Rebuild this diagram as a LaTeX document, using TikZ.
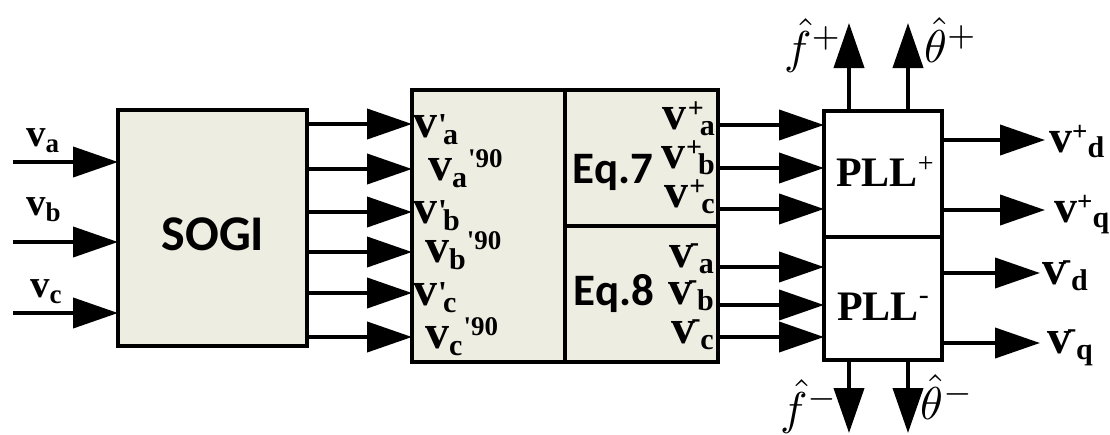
\documentclass[tikz,border=0pt]{standalone}
\usepackage{graphicx}
\usepackage{fontspec}
\setmainfont{Liberation Serif}
\newfontfamily\tms{Liberation Serif}
\newfontfamily\calib{Carlito}
\usetikzlibrary{arrows.meta}
\definecolor{boxfill}{RGB}{237,237,226}
\newcommand\fs[1]{\fontsize{#1}{#1}\selectfont}
% input labels
\newcommand\vin[1]{\fs{39}v\raisebox{-6pt}{\fs{27}#1}}
% v'_x
\newcommand\vpr[1]{\fs{48}v\kern1pt\rlap{\raisebox{2pt}{\fs{32}'}}\kern5pt\raisebox{-7pt}{\fs{30}#1}}
% v_x'90
\newcommand\vnt[1]{\fs{48}v\raisebox{-7pt}{\fs{30}#1}\kern1pt\raisebox{13pt}{\fs{27}'90}}
% v^+_x stacked
\newcommand\vpl[1]{\fs{48}v\kern1pt\rlap{\raisebox{12pt}{\fs{28}+}}\kern12pt\raisebox{-6pt}{\fs{30}#1}}
% v^-_x stacked
\newcommand\vmi[1]{\fs{48}v\rlap{\kern-4pt\raisebox{16pt}{\fs{28}-}}\kern5pt\raisebox{-6pt}{\fs{30}#1}}
% v^+_x sequential
\newcommand\vps[1]{\fs{46}v\raisebox{12pt}{\fs{27}+}\raisebox{-5pt}{\fs{30}#1}}
\begin{document}
\begin{tikzpicture}[x=1pt,y=-1pt,
  blk/.style={draw, line width=4pt, fill=boxfill, inner sep=0pt, outer sep=0pt},
  wblk/.style={blk, fill=white},
  arr/.style={line width=4pt, -{Triangle[length=45pt,width=30pt]}},
  lab/.style={inner sep=0pt, anchor=base west, font=\tms\bfseries},
  labr/.style={lab, anchor=base east},
  hatlab/.style={inner sep=0pt, anchor=base west},
]
\useasboundingbox (0,0) rectangle (1110,434);
% blocks
\node[blk, minimum width=189pt, minimum height=236pt] (sogi) at (212.5,228) {};
\node[anchor=base, inner sep=0pt, font=\calib\bfseries\fs{50}] (sogit) at (213,250) {SOGI};
\node[blk, minimum width=153pt, minimum height=272pt] (midL) at (488.5,226) {};
\node[blk, minimum width=153pt, minimum height=136pt] (eq7) at (641.5,158) {};
\node[blk, minimum width=153pt, minimum height=136pt] (eq8) at (641.5,294) {};
\node[anchor=base, inner sep=0pt, font=\calib\bfseries\fs{45}] (eq7t) at (613,183) {Eq.7};
\node[anchor=base, inner sep=0pt, font=\calib\bfseries\fs{45}] (eq8t) at (614,305) {Eq.8};
\node[wblk, minimum width=118pt, minimum height=126pt] (pllp) at (883,174) {};
\node[wblk, minimum width=118pt, minimum height=123pt] (plln) at (883,298.5) {};
\node[lab, font=\tms\bfseries\fs{42}] (pllpt) at (836,186) {PLL\raisebox{14pt}{\fs{28}\mdseries+}};
\node[lab, font=\tms\bfseries\fs{42}] (pllnt) at (837,320) {PLL\raisebox{16pt}{\fs{30}\mdseries-}};
% inputs
\coordinate (ia) at (13,162);
\coordinate (ib) at (13,242);
\coordinate (ic) at (13,313);
\draw[arr] (ia) -- (ia -| sogi.west);
\draw[arr] (ib) -- (ib -| sogi.west);
\draw[arr] (ic) -- (ic -| sogi.west);
\node[lab] (lva) at (26,146) {\vin{a}};
\node[lab] (lvb) at (26,215) {\vin{b}};
\node[lab] (lvc) at (30,297) {\vin{c}};
% SOGI -> middle
\foreach \yy in {124,169,212,252,293,337}
  \draw[arr] (sogi.east |- 0,\yy) -- (midL.west |- 0,\yy);
\node[lab] (l1) at (413,137) {\vpr{a}};
\node[lab] (l2) at (428,180) {\vnt{a}};
\node[lab] (l3) at (413,223) {\vpr{b}};
\node[lab] (l4) at (425,262) {\vnt{b}};
\node[lab] (l5) at (413,305) {\vpr{c}};
\node[lab] (l6) at (425,348) {\vnt{c}};
% Eq outputs labels
\node[labr] (p1) at (715,129) {\vpl{a}};
\node[labr] (p2) at (715,168) {\vpl{b}};
\node[labr] (p3) at (715,207) {\vpl{c}};
\node[labr] (m1) at (714,267) {\vmi{a}};
\node[labr] (m2) at (714,304) {\vmi{b}};
\node[labr] (m3) at (714,343) {\vmi{c}};
% Eq -> PLL
\foreach \yy in {125,168,209}
  \draw[arr] (eq7.east |- 0,\yy) -- (pllp.west |- 0,\yy);
\foreach \yy in {267,305,337}
  \draw[arr] (eq8.east |- 0,\yy) -- (plln.west |- 0,\yy);
% PLL outputs
\coordinate (od1) at (1045,140);
\coordinate (oq1) at (1045,210);
\coordinate (od2) at (1040,273);
\coordinate (oq2) at (1040,343);
\draw[arr] (od1 -| pllp.east) -- (od1);
\draw[arr] (oq1 -| pllp.east) -- (oq1);
\draw[arr] (od2 -| plln.east) -- (od2);
\draw[arr] (oq2 -| plln.east) -- (oq2);
\node[lab] (vd1) at (1049,152) {\vps{d}};
\node[lab] (vq1) at (1054,222) {\vps{q}};
\node[lab] (vd2) at (1042,284) {\vmi{d}};
\node[lab] (vq2) at (1047,353) {\vmi{q}};
% up/down
\coordinate (fu) at (849,23);
\coordinate (tu) at (908,23);
\coordinate (fd) at (849,433);
\coordinate (td) at (908,433);
\draw[arr] (fu |- pllp.north) -- (fu);
\draw[arr] (tu |- pllp.north) -- (tu);
\draw[arr] (fd |- plln.south) -- (fd);
\draw[arr] (td |- plln.south) -- (td);
\node[hatlab] (fp) at (784,63) {\scalebox{4.6}{$\hat{f}^{+}$}};
\node[hatlab] (thp) at (924,62) {\scalebox{4.6}{$\hat{\theta}^{+}$}};
\node[hatlab] (fm) at (780,424) {\scalebox{4.6}{$\hat{f}^{-}$}};
\node[hatlab] (thm) at (920,419) {\scalebox{4.6}{$\hat{\theta}^{-}$}};
\end{tikzpicture}
\end{document}
